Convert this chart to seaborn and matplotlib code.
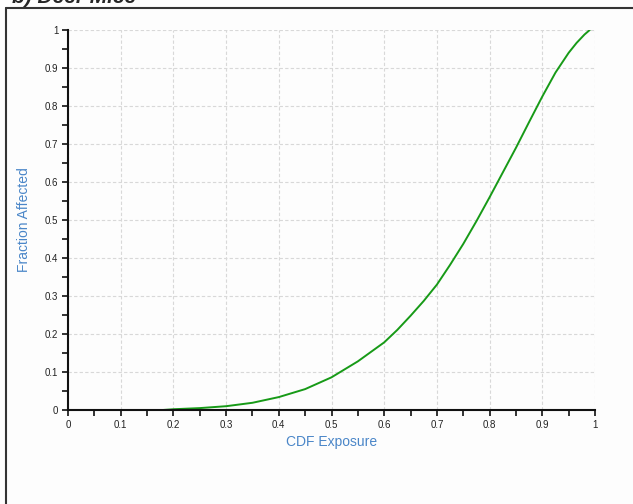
import matplotlib
matplotlib.use("Agg")
import matplotlib.pyplot as plt
from matplotlib.ticker import MultipleLocator
from matplotlib.lines import Line2D
import seaborn as sns
import pandas as pd

## Curve values
cdf_exposure = [0.18, 0.20, 0.25, 0.30, 0.35, 0.40, 0.45, 0.50, 0.55, 0.60,
                0.625, 0.65, 0.675, 0.70, 0.725, 0.75, 0.775, 0.80, 0.825, 0.85,
                0.875, 0.90, 0.925, 0.95, 0.965, 0.98, 0.99]
fraction_affected = [0.0, 0.002, 0.005, 0.010, 0.019, 0.034, 0.055, 0.086, 0.128, 0.178,
                     0.211, 0.248, 0.287, 0.330, 0.382, 0.437, 0.497, 0.560, 0.625, 0.690,
                     0.758, 0.825, 0.888, 0.940, 0.966, 0.988, 1.0]
x_ticks = [0, 0.1, 0.2, 0.3, 0.4, 0.5, 0.6, 0.7, 0.8, 0.9, 1]
y_ticks = [0, 0.1, 0.2, 0.3, 0.4, 0.5, 0.6, 0.7, 0.8, 0.9, 1]
tick_labels = ["0", "0.1", "0.2", "0.3", "0.4", "0.5", "0.6", "0.7", "0.8", "0.9", "1"]

df = pd.DataFrame({"x": cdf_exposure, "y": fraction_affected})

sns.set_style("whitegrid")
plt.rcParams["font.family"] = ["Liberation Sans", "DejaVu Sans"]

fig = plt.figure(figsize=(6.33, 5.04), dpi=100)
fig.patch.set_facecolor("#fdfdfd")
ax = fig.add_axes([0.1074, 0.1865, 0.8326, 0.754])
ax.set_facecolor("#fdfdfd")

sns.lineplot(data=df, x="x", y="y", color="#179a17", linewidth=1.4, ax=ax)

ax.set_xlim(0, 1)
ax.set_ylim(0, 1)
ax.set_xticks(x_ticks)
ax.set_xticklabels(tick_labels, fontsize=7, color="#222222")
ax.set_yticks(y_ticks)
ax.set_yticklabels(tick_labels, fontsize=7, color="#222222")
ax.xaxis.set_minor_locator(MultipleLocator(0.05))
ax.yaxis.set_minor_locator(MultipleLocator(0.05))
ax.tick_params(which="both", direction="out", length=4, width=1.2, color="#111111",
               bottom=True, left=True, pad=3)
ax.grid(True, which="major", linestyle=(0, (3, 2)), color="#d8d8d8", linewidth=0.8)
ax.grid(False, which="minor")

for side in ["top", "right"]:
    ax.spines[side].set_visible(False)
for side in ["left", "bottom"]:
    ax.spines[side].set_color("#111111")
    ax.spines[side].set_linewidth(1.5)

ax.set_xlabel("CDF Exposure", fontsize=10, color="#4a86c8", labelpad=4)
ax.set_ylabel("Fraction Affected", fontsize=10, color="#4a86c8", labelpad=10)

# outer frame of the original panel, cut off on the right and bottom
fig.add_artist(Line2D([6 / 633, 6 / 633], [0, 1 - 8 / 504], transform=fig.transFigure,
                      color="#333333", linewidth=1.5))
fig.add_artist(Line2D([6 / 633, 1], [1 - 8 / 504, 1 - 8 / 504], transform=fig.transFigure,
                      color="#333333", linewidth=1.5))
# panel title, cropped at the top edge as in the source
fig.text(12 / 633, 1 - 3 / 504, "b) Deer Mice", fontsize=15, fontweight="bold",
         fontstyle="italic", va="baseline", ha="left")

fig.savefig("out.png", dpi=100, facecolor=fig.get_facecolor())
